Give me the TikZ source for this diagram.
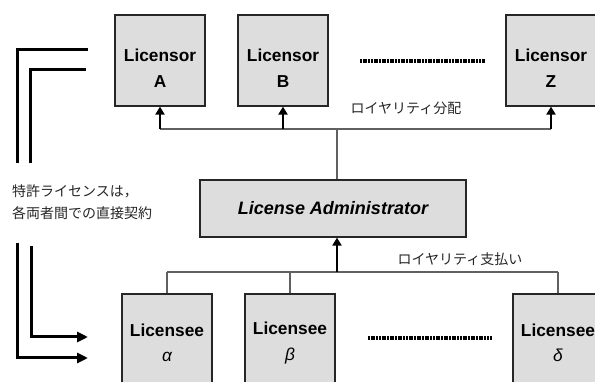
\documentclass[tikz,border=0pt]{standalone}
\usepackage{fontspec}
\setmainfont{Liberation Sans}
\newfontfamily\jpfont{Noto Sans CJK JP}
\usetikzlibrary{arrows.meta}
\definecolor{boxgray}{HTML}{DDDDDD}
\definecolor{busgray}{HTML}{606060}
\begin{document}
\begin{tikzpicture}[x=1pt,y=-1pt,
  box/.style={draw=black!85,line width=1.2pt,fill=boxgray,inner sep=0pt},
  boxtext/.style={align=center,font=\fontsize{17.3}{25.5}\selectfont\bfseries,inner sep=0pt},
  bus/.style={draw=busgray,line width=1.3pt},
  uparrow/.style={draw=black,line width=2.6pt,-{Triangle[length=8pt,width=9pt]}},
  bracket/.style={draw=black,line width=3pt},
  bracketarrow/.style={draw=black,line width=3pt,-{Triangle[length=11pt,width=10pt]}},
  dots/.style={draw=black,line width=3.2pt,dash pattern=on 2pt off 0.7pt},
  jp/.style={font=\jpfont\fontsize{14}{22}\selectfont,text=black!85,inner sep=0pt}]
\useasboundingbox (0,0) rectangle (595,382);

% Licensors
\node[box,minimum width=90pt,minimum height=91pt] (A) at (160,60.5) {};
\node[box,minimum width=90pt,minimum height=91pt] (B) at (283,60.5) {};
\node[box,minimum width=90pt,minimum height=91pt] (Z) at (551,60.5) {};
\node[boxtext] (tA) at (160,68) {Licensor\\A};
\node[boxtext] (tB) at (283,68) {Licensor\\B};
\node[boxtext] (tZ) at (551,68) {Licensor\\Z};
\draw[dots] (360,61) coordinate (d1) -- (485,61) coordinate (d2);

% Administrator
\node[box,minimum width=266pt,minimum height=57pt] (adm) at (333,208.5) {};
\node[font=\fontsize{18}{20}\selectfont\bfseries\itshape,inner sep=0pt] (tadm) at (333,208.5) {License Administrator};

% Licensees
\node[box,minimum width=90pt,minimum height=100pt] (al) at (167,344) {};
\node[box,minimum width=90pt,minimum height=100pt] (be) at (290,344) {};
\node[box,minimum width=90pt,minimum height=100pt] (de) at (558,344) {};
\node[boxtext] (tal) at (167,343) {Licensee\\\normalfont\itshape α};
\node[boxtext] (tbe) at (290,343) {Licensee\\\normalfont\itshape β};
\node[boxtext] (tde) at (558,343) {Licensee\\\normalfont\itshape δ};
\draw[dots] (368,338) coordinate (d3) -- (492,338) coordinate (d4);

% Top bus
\coordinate (tb1) at (160,129);
\coordinate (tb2) at (283,129);
\coordinate (tb3) at (551,129);
\coordinate (tbm) at (337,129);
\draw[bus] (tb1) -- (tb3);
\draw[bus] (tbm) -- (tbm |- adm.north);
\draw[uparrow] (tb1) -- (A.south);
\draw[uparrow] (tb2) -- (B.south);
\draw[uparrow] (tb3) -- (Z.south);
\node[jp] (l1) at (406,108) {ロイヤリティ分配};

% Bottom bus
\coordinate (bb1) at (167,272);
\coordinate (bb2) at (290,272);
\coordinate (bb3) at (558,272);
\coordinate (bbm) at (337,272);
\draw[bus] (bb1) -- (bb3);
\draw[bus] (bb1) -- (al.north);
\draw[bus] (bb2) -- (be.north);
\draw[bus] (bb3) -- (de.north);
\draw[uparrow] (bbm) -- (bbm |- adm.south);
\node[jp] (l2) at (460,259) {ロイヤリティ支払い};

% Left brackets
\coordinate (o1) at (17,163);
\coordinate (o2) at (17,50);
\coordinate (o3) at (88,50);
\coordinate (i1) at (30,163);
\coordinate (i2) at (30,70);
\coordinate (i3) at (86,70);
\draw[bracket] (o1) -- (o2) -- (o3);
\draw[bracket] (i1) -- (i2) -- (i3);
\coordinate (p1) at (17,243);
\coordinate (p2) at (17,358);
\coordinate (p3) at (88,358);
\coordinate (q1) at (31,246);
\coordinate (q2) at (31,337);
\coordinate (q3) at (88,337);
\draw[bracketarrow] (p1) -- (p2) -- (p3);
\draw[bracketarrow] (q1) -- (q2) -- (q3);
\node[jp,anchor=west] (n1) at (12,191) {特許ライセンスは，};
\node[jp,anchor=west] (n2) at (12,213) {各両者間での直接契約};
\end{tikzpicture}
\end{document}
